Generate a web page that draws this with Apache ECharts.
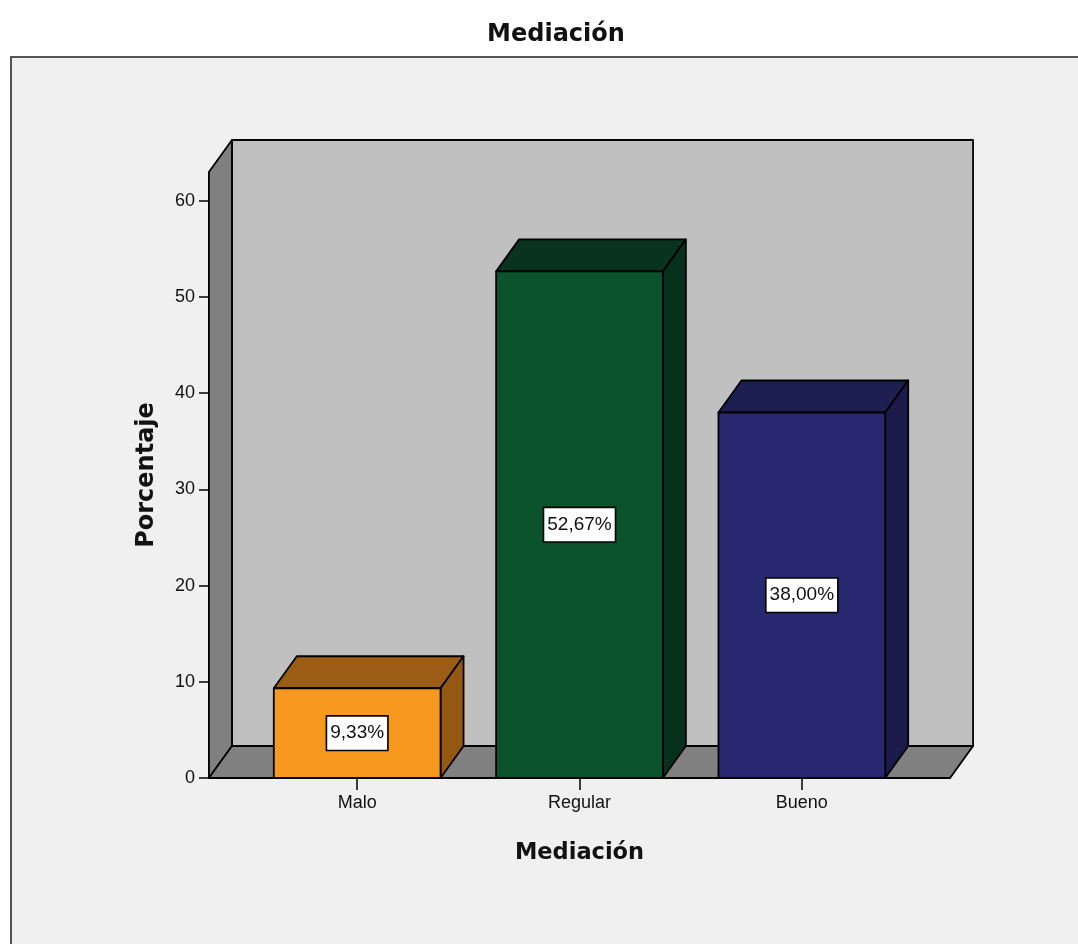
<!DOCTYPE html>
<html>
<head>
<meta charset="utf-8">
<script src="https://cdn.jsdelivr.net/npm/echarts@6/dist/echarts.min.js"></script>
<style>
  html, body { margin: 0; padding: 0; background: #ffffff; }
  #chart { width: 1078px; height: 944px; }
</style>
</head>
<body>
<div id="chart"></div>
<script>
// Frequency distribution for "Mediación"
const categories = ['Malo', 'Regular', 'Bueno'];
const percentages = [9.33, 52.67, 38.00];
const yTicks = [0, 10, 20, 30, 40, 50, 60];
const yMax = 63;

// Styling for the 3D box look
const faceColors = ['#f7981f', '#0a532d', '#27286f'];
const topColors = ['#9b5c14', '#08341f', '#1d1e52'];
const sideColors = ['#955812', '#06311c', '#1a1b4b'];
const DX = 23;      // depth offset to the right
const DY = -32;     // depth offset upwards
const BAR_RATIO = 0.75;
const FONT = '"Liberation Sans", Arial, sans-serif';
const BOLD_FONT = '"DejaVu Sans", "Liberation Sans", sans-serif';
const EDGE = { stroke: '#000000', lineWidth: 1.8, lineJoin: 'round' };

function fmtPct(v) {
  return v.toFixed(2).replace('.', ',') + '%';
}

// Back wall, left wall and floor of the 3D chart box
function renderFrame(params, api) {
  const cs = params.coordSys;
  const pad = api.size([1, 0])[0] / 6;
  const L = cs.x - pad, R = cs.x + cs.width + pad;
  const T = cs.y, B = cs.y + cs.height;
  return {
    type: 'group',
    children: [
      { type: 'rect', shape: { x: L + DX, y: T + DY, width: R - L, height: B - T },
        style: Object.assign({ fill: '#c0c0c0' }, EDGE) },
      { type: 'polygon', shape: { points: [[L, T], [L + DX, T + DY], [L + DX, B + DY], [L, B]] },
        style: Object.assign({ fill: '#808080' }, EDGE) },
      { type: 'polygon', shape: { points: [[L, B], [L + DX, B + DY], [R + DX, B + DY], [R, B]] },
        style: Object.assign({ fill: '#808080' }, EDGE) }
    ]
  };
}

// One 3D bar: top face, right side, front face and a boxed value label
function renderBar(params, api) {
  const i = api.value(0);
  const v = api.value(1);
  const base = api.coord([i, 0]);
  const top = api.coord([i, v]);
  const half = api.size([1, 0])[0] * BAR_RATIO / 2;
  const x0 = base[0] - half, x1 = base[0] + half;
  const yb = base[1], yt = top[1];
  return {
    type: 'group',
    children: [
      { type: 'polygon', shape: { points: [[x0, yt], [x0 + DX, yt + DY], [x1 + DX, yt + DY], [x1, yt]] },
        style: Object.assign({ fill: topColors[i] }, EDGE) },
      { type: 'polygon', shape: { points: [[x1, yt], [x1 + DX, yt + DY], [x1 + DX, yb + DY], [x1, yb]] },
        style: Object.assign({ fill: sideColors[i] }, EDGE) },
      { type: 'rect', shape: { x: x0, y: yt, width: x1 - x0, height: yb - yt },
        style: Object.assign({ fill: faceColors[i] }, EDGE) },
      { type: 'text', x: base[0], y: (yt + yb) / 2,
        style: {
          text: fmtPct(v), fontFamily: FONT, fontSize: 19, lineHeight: 21, fill: '#111',
          align: 'center', verticalAlign: 'middle',
          backgroundColor: '#ffffff', borderColor: '#000000', borderWidth: 1.6,
          padding: [6, 3]
        } }
    ]
  };
}

const chart = echarts.init(document.getElementById('chart'), null, { renderer: 'canvas' });

chart.setOption({
  animation: false,
  backgroundColor: '#ffffff',
  graphic: [{
    type: 'rect', left: 10, top: 56, z: -10,
    shape: { width: 1100, height: 950 },
    style: { fill: '#f0f0f0', stroke: '#555555', lineWidth: 2 }
  }],
  title: {
    text: 'Mediación',
    left: 551, top: 18, textAlign: 'center',
    textStyle: { fontFamily: BOLD_FONT, fontWeight: 'bold', fontSize: 24, color: '#111' }
  },
  grid: { left: 246, right: 165, top: 172, bottom: 166, containLabel: false },
  xAxis: {
    type: 'category',
    data: categories,
    name: 'Mediación',
    nameLocation: 'middle',
    nameGap: 64,
    nameTextStyle: { fontFamily: BOLD_FONT, fontWeight: 'bold', fontSize: 22.5, color: '#111' },
    axisLine: { show: false },
    axisTick: { show: true, alignWithLabel: true, length: 12, lineStyle: { color: '#000', width: 1.5 } },
    axisLabel: { margin: 16, fontFamily: FONT, fontSize: 18, color: '#111' },
    splitLine: { show: false }
  },
  yAxis: {
    type: 'value',
    min: 0, max: yMax,
    offset: 37,
    name: 'Porcentaje',
    nameLocation: 'middle',
    nameGap: 50,
    nameRotate: 90,
    nameTextStyle: { fontFamily: BOLD_FONT, fontWeight: 'bold', fontSize: 24, color: '#111' },
    axisLine: { show: true, lineStyle: { color: '#000', width: 1.5 } },
    axisTick: { show: true, length: 10, customValues: yTicks, lineStyle: { color: '#000', width: 1.5 } },
    axisLabel: { margin: 14, customValues: yTicks, fontFamily: FONT, fontSize: 18, color: '#111' },
    splitLine: { show: false }
  },
  series: [
    {
      type: 'custom',
      z: 1,
      silent: true,
      renderItem: renderFrame,
      data: [[0, 0]],
      encode: { x: 0, y: 1 }
    },
    {
      type: 'custom',
      z: 3,
      renderItem: renderBar,
      data: categories.map((c, i) => [i, percentages[i]]),
      encode: { x: 0, y: 1 }
    }
  ]
});
</script>
</body>
</html>
